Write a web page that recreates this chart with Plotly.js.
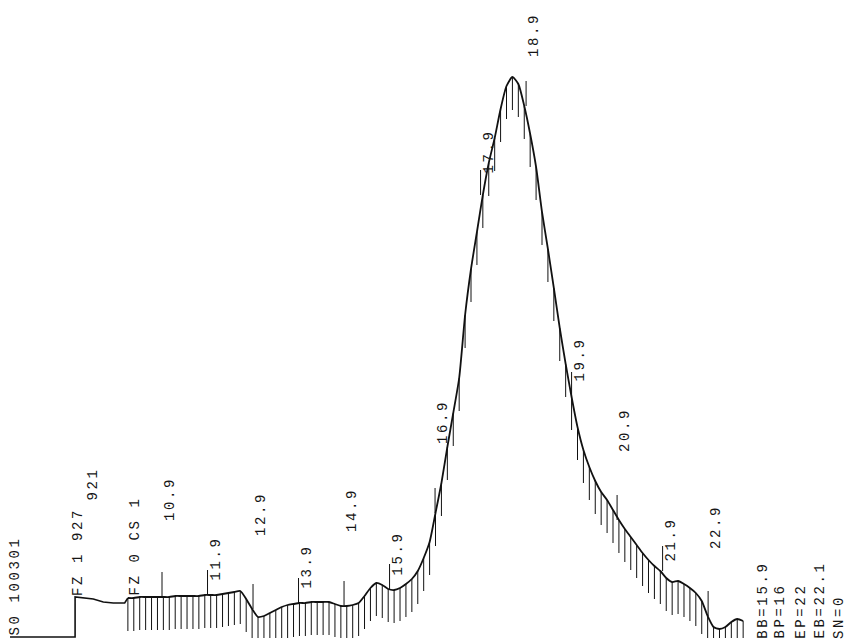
<!DOCTYPE html>
<html><head><meta charset="utf-8">
<script src="https://cdn.plot.ly/plotly-3.0.1.min.js"></script>
<style>
html,body{margin:0;padding:0;background:#fff;}
#chart{width:846px;height:642px;}
.annotation-text{letter-spacing:2.6px;}
</style></head><body><div id="chart"></div>
<script>
// Run start (before integration is switched on)
const preTimes  = [7.56, 8.99, 8.99, 9.17, 9.39, 9.61, 9.83, 10.08, 10.15];
const preSignal = [5, 5, 45, 44, 43, 40, 39, 39, 44];

// Sampled detector signal (minutes, arbitrary units)
const times = [10.15,10.28,10.41,10.54,10.67,10.80,10.93,11.06,11.19,11.32,
11.45,11.58,11.71,11.84,11.97,12.10,12.23,12.36,12.49,12.62,
12.75,12.88,13.01,13.14,13.27,13.40,13.53,13.66,13.79,13.92,
14.05,14.18,14.31,14.44,14.57,14.70,14.83,14.96,15.09,15.22,
15.35,15.48,15.61,15.74,15.87,16.00,16.13,16.26,16.39,16.52,
16.65,16.78,16.91,17.04,17.17,17.30,17.43,17.56,17.69,17.82,
17.95,18.08,18.21,18.34,18.47,18.60,18.73,18.86,18.99,19.12,
19.25,19.38,19.51,19.64,19.77,19.90,20.03,20.16,20.29,20.42,
20.55,20.68,20.81,20.94,21.07,21.20,21.33,21.46,21.59,21.72,
21.85,21.98,22.11,22.24,22.37,22.50,22.63,22.76,22.89,23.02,
23.15,23.28,23.41,23.54,23.67];
const signal = [44,44,45,45,45,45,45,45,46,46,
46,46,46,47,47,47,48,49,50,51,
43,33,25,26,29,32,35,37,38,39,
39,40,40,40,40,38,36,36,37,39,
46,54,59,57,53,52,54,58,63,71,
84,100,129,159,195,229,264,327,373,410,
447,479,504,533,556,565,558,536,508,475,
430,393,354,314,278,245,215,192,175,161,
150,142,132,122,113,105,97,89,82,76,
71,64,60,61,58,54,49,41,26,15,
13,15,20,23,21];

// Events
const hatchStart = 10.15;
const headerText = "S0 100301";
const eventTexts = ["FZ 1 927", "921", "FZ 0 CS 1"];
const eventTimes = [9.054, 9.362, 10.285];
const eventHeights = [45, 140, 45];

// Minute markers and their labels
const markerTimes  = [10.9,11.9,12.9,13.9,14.9,15.9,16.9,17.9,18.9,19.9,20.9,21.9,22.9];
const markerLabels = ["10.9","11.9","12.9","13.9","14.9","15.9","16.9","17.9","18.9","19.9","20.9","21.9","22.9"];
const labelHeights = [120,60,105,52,109,65,197,467,584,259,189,79,92];

// Integration report
const reportTexts = ["BB=15.9","BP=16","EP=22","EB=22.1","SN=0"];
const reportTimes = [24.087,24.46,24.922,25.338,25.778];

// ---- build ----
const HATCH = 33, FLOOR = 4, MARK = 25;
const hx = [], hy = [];
times.forEach((t,i)=>{
  if (t >= hatchStart){
    hx.push(t,t,null);
    hy.push(signal[i], Math.max(signal[i]-HATCH, FLOOR), null);
  }
});
function nearestIdx(t){
  let best=0, bd=1e9;
  times.forEach((v,i)=>{const d=Math.abs(v-t); if(d<bd){bd=d;best=i;}});
  return best;
}
const mx = [], my = [];
markerTimes.forEach(t=>{
  const v = signal[nearestIdx(t)];
  mx.push(t,t,null); my.push(v, v+MARK, null);
});

const font = {family:'"Liberation Mono", "DejaVu Sans Mono", monospace', size:14, color:'#151515'};
function vlabel(text, x, y, ya, xs){
  return {text:text, x:x, y:y, xref:'x', yref:'y', textangle:-90, showarrow:false,
    xanchor:'center', yanchor:ya||'bottom', xshift:xs||0, borderpad:0, font:font};
}
const ann = [];
ann.push(vlabel(headerText, 7.669, 107, 'top'));
eventTexts.forEach((s,i)=>ann.push(vlabel(s, eventTimes[i], eventHeights[i])));
markerLabels.forEach((s,i)=>ann.push(vlabel(s, markerTimes[i], labelHeights[i], 'bottom', 8)));
reportTexts.forEach((s,i)=>ann.push(vlabel(s, reportTimes[i], 2)));

const traces = [
  {x:hx, y:hy, mode:'lines', line:{color:'#111', width:1}, hoverinfo:'skip'},
  {x:mx, y:my, mode:'lines', line:{color:'#111', width:1}, hoverinfo:'skip'},
  {x:preTimes, y:preSignal, mode:'lines', line:{color:'#111', width:1.6}},
  {x:times, y:signal, mode:'lines', line:{color:'#111', width:1.8, shape:'spline', smoothing:0.6}}
];
const layout = {
  width:846, height:642, margin:{l:0,r:0,t:0,b:0},
  paper_bgcolor:'#fff', plot_bgcolor:'#fff', showlegend:false,
  xaxis:{range:[7.34,25.93], visible:false, fixedrange:true},
  yaxis:{range:[0,642], visible:false, fixedrange:true},
  annotations:ann
};
Plotly.newPlot('chart', traces, layout, {staticPlot:true, displayModeBar:false});
</script></body></html>
